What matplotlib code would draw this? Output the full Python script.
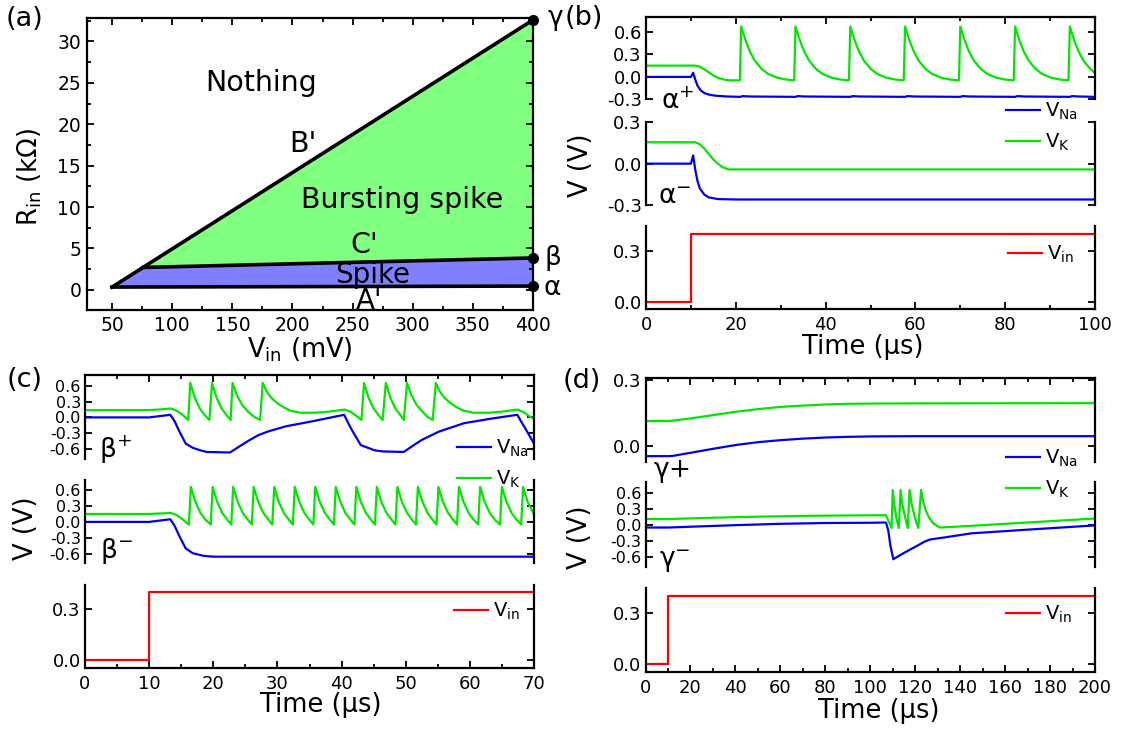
import numpy as np
import matplotlib
matplotlib.use('Agg')
import matplotlib.pyplot as plt
from matplotlib.ticker import MultipleLocator, FormatStrFormatter

plt.rcParams['font.family'] = 'DejaVu Sans'
plt.rcParams['axes.unicode_minus'] = False
plt.rcParams['mathtext.default'] = 'regular'

# ---------------- panel (a): phase diagram corners (Vin in mV, Rin in kOhm)
tip = (50, 0.33)
c_start = (75.8, 2.7)
gamma_pt = (400, 32.6)
beta_pt = (400, 3.85)
alpha_pt = (400, 0.45)

# ---------------- traces, (time in us, volts)
# (b) alpha+ / alpha-
ap_na = [(0, 0), (10, 0), (10.5, .055), (11, -.04), (11.5, -.12), (12.2, -.18), (13, -.215), (14, -.235),
         (15.5, -.25), (18, -.26), (21, -.265), (21.5, -.255), (23, -.26), (33.3, -.265), (33.8, -.255),
         (35.3, -.26), (45.5, -.265), (46, -.255), (47.5, -.26), (57.7, -.265), (58.2, -.255), (59.7, -.26),
         (70, -.265), (70.5, -.255), (72, -.26), (82.2, -.265), (82.7, -.255), (84.2, -.26), (94.4, -.265),
         (94.9, -.255), (96.4, -.26), (100, -.265)]
ap_k = [(0, .15), (11, .15), (12, .135), (13, .10), (14, .06), (15, .02), (16, -.01), (17, -.03), (18.4, -.045),
        (20.9, -.045),
        (21.2, .67), (22.2, .48), (23.2, .33), (24.2, .22), (25.7, .11), (27.2, .04), (29.2, -.01), (31.2, -.035), (33.0, -.045),
        (33.3, .67), (34.3, .48), (35.3, .33), (36.3, .22), (37.8, .11), (39.3, .04), (41.3, -.01), (43.3, -.035), (45.2, -.045),
        (45.5, .67), (46.5, .48), (47.5, .33), (48.5, .22), (50.0, .11), (51.5, .04), (53.5, -.01), (55.5, -.035), (57.4, -.045),
        (57.7, .67), (58.7, .48), (59.7, .33), (60.7, .22), (62.2, .11), (63.7, .04), (65.7, -.01), (67.7, -.035), (69.7, -.045),
        (70.0, .67), (71.0, .48), (72.0, .33), (73.0, .22), (74.5, .11), (76.0, .04), (78.0, -.01), (80.0, -.035), (81.9, -.045),
        (82.2, .67), (83.2, .48), (84.2, .33), (85.2, .22), (86.7, .11), (88.2, .04), (90.2, -.01), (92.2, -.035), (94.1, -.045),
        (94.4, .67), (95.4, .48), (96.4, .33), (97.4, .22), (98.9, .11), (100, .05)]
am_na = [(0, 0), (10, 0), (10.5, .06), (11, -.05), (11.5, -.13), (12, -.18), (13, -.225), (14, -.245),
         (16, -.257), (20, -.26), (100, -.26)]
am_k = [(0, .155), (11, .155), (12, .14), (13, .11), (14, .07), (15, .03), (16, 0), (17, -.025),
        (18.4, -.042), (100, -.042)]
vin_b = [(0, 0), (10, 0), (10, .4), (100, .4)]

# (c) beta+ / beta-
bp_na = [(0, 0), (10, 0), (13.3, .05), (14.0, -.08), (14.6, -.24), (15.7, -.5), (16.8, -.58), (18.0, -.63),
         (19.0, -.66), (22.6, -.67), (24.0, -.56), (25.7, -.43), (27.0, -.34), (28.5, -.27), (31.3, -.17),
         (35.2, -.08), (40.4, .05), (41.0, -.1), (41.6, -.24), (43.0, -.53), (45.2, -.63), (46.5, -.65),
         (49.7, -.66), (51.0, -.55), (52.5, -.43), (55.2, -.27), (59.1, -.11), (63.5, -.02), (67.4, .05),
         (68.0, -.08), (68.6, -.2), (70.0, -.5)]
bp_k = [(0, .14), (10, .14), (12, .155), (13.4, .17), (14.3, .13), (15.2, .05), (16.1, -.05),
        (16.4, .66), (17.1, .38), (17.9, .17), (18.7, .04), (19.4, -.05),
        (19.8, .66), (20.5, .38), (21.3, .17), (22.1, .04), (22.7, -.05),
        (23.0, .66), (23.7, .42), (24.5, .24), (25.4, .11), (26.4, .01), (27.3, -.05),
        (27.7, .66), (28.3, .5), (29.0, .38), (30.0, .27), (31.0, .19), (32.0, .13), (33.5, .09),
        (36.0, .09), (38.0, .11), (40.5, .15), (41.5, .10), (42.4, .02), (43.1, -.05),
        (43.5, .66), (44.2, .38), (45.0, .17), (45.8, .04), (46.4, -.05),
        (46.9, .66), (47.6, .38), (48.4, .17), (49.2, .04), (49.7, -.05),
        (50.2, .66), (50.9, .42), (51.7, .24), (52.6, .11), (53.4, .01), (54.2, -.05),
        (54.7, .66), (55.3, .5), (56.0, .38), (57.0, .27), (58.0, .19), (59.0, .13), (60.5, .09),
        (63.0, .09), (65.0, .11), (67.4, .15), (68.4, .10), (69.3, .02), (70.0, -.03)]
bm_na = [(0, 0), (10, 0), (13.3, .05), (14.0, -.08), (14.6, -.24), (15.7, -.5), (16.8, -.59),
         (18.5, -.64), (20.0, -.655), (70, -.655)]
bm_k = [(0, .15), (10, .15), (12, .16), (13.4, .17), (14.3, .13), (15.2, .05), (16.2, -.05),
        (16.5, .66), (17.2, .38), (18.0, .17), (18.8, .04), (19.6, -.05),
        (19.9, .66), (20.6, .38), (21.4, .17), (22.2, .04), (22.8, -.05),
        (23.1, .66), (23.8, .38), (24.6, .17), (25.4, .04), (26.0, -.05),
        (26.3, .66), (27.0, .38), (27.8, .17), (28.6, .04), (29.2, -.05),
        (29.5, .66), (30.2, .38), (31.0, .17), (31.8, .04), (32.4, -.05),
        (32.7, .66), (33.4, .38), (34.2, .17), (35.0, .04), (35.6, -.05),
        (35.9, .66), (36.6, .38), (37.4, .17), (38.2, .04), (38.8, -.05),
        (39.1, .66), (39.8, .38), (40.6, .17), (41.4, .04), (42.0, -.05),
        (42.3, .66), (43.0, .38), (43.8, .17), (44.6, .04), (45.2, -.05),
        (45.5, .66), (46.2, .38), (47.0, .17), (47.8, .04), (48.4, -.05),
        (48.7, .66), (49.4, .38), (50.2, .17), (51.0, .04), (51.6, -.05),
        (51.9, .66), (52.6, .38), (53.4, .17), (54.2, .04), (54.8, -.05),
        (55.1, .66), (55.8, .38), (56.6, .17), (57.4, .04), (58.0, -.05),
        (58.3, .66), (59.0, .38), (59.8, .17), (60.6, .04), (61.3, -.05),
        (61.6, .66), (62.3, .38), (63.1, .17), (63.9, .04), (64.7, -.05),
        (65.0, .66), (65.7, .38), (66.5, .17), (67.3, .04), (68.0, -.05),
        (68.3, .66), (69.0, .38), (70.0, .14)]
vin_c = [(0, 0), (10, 0), (10, .4), (70, .4)]

# (d) gamma+ / gamma-
gp_na = [(0, -.045), (10, -.045), (12, -.044), (20, -.03), (30, -.012), (40, .005), (50, .018), (60, .027),
         (70, .034), (80, .039), (90, .042), (100, .044), (120, .045), (200, .045)]
gp_k = [(0, .113), (10, .113), (12, .115), (20, .125), (30, .14), (40, .155), (50, .167), (60, .177),
        (70, .183), (80, .188), (90, .191), (100, .192), (120, .193), (200, .194)]
gm_na = [(0, -.05), (10, -.05), (20, -.035), (40, -.005), (60, .02), (80, .035), (100, .04), (107, .045),
         (108, -.1), (109, -.4), (110.3, -.65), (111, -.63), (113, -.58), (115, -.53), (118, -.46),
         (121.5, -.38), (124, -.32), (126.3, -.28), (129, -.26), (132.6, -.24), (145, -.16), (170, -.09),
         (200, -.01)]
gm_k = [(0, .11), (10, .11), (30, .135), (50, .155), (70, .17), (90, .178), (107, .182), (108.3, .06),
        (109.5, -.06), (110.0, .66), (110.8, .35), (111.7, .12), (112.7, -.06),
        (113.5, .66), (114.3, .38), (115.5, .15), (116.7, -.06),
        (117.5, .66), (118.4, .4), (119.5, .2), (120.5, .05), (121.4, -.06),
        (122.6, .66), (123.5, .45), (124.5, .3), (126, .15), (128, .03), (131, -.05),
        (140, -.03), (160, .02), (180, .07), (200, .12)]
vin_d = [(0, 0), (10, 0), (10, .4), (200, .4)]

C_NA, C_K, C_IN = '#0000ee', '#00e600', '#ff0000'
TICK = 13

W, H = 1122, 731
fig = plt.figure(figsize=(W / 100, H / 100), dpi=100)


def box(l, t, r, b):
    ax = fig.add_axes([l / W, 1 - b / H, (r - l) / W, (b - t) / H])
    ax.patch.set_alpha(0)
    return ax


def ftext(x, y, s, **kw):
    return fig.text(x / W, 1 - y / H, s, **kw)


def style(ax, where, xmaj, xmin, xmax, yticks, ylim):
    for s in ax.spines.values():
        s.set_linewidth(1.6)
    ax.spines['top'].set_visible(where == 'top')
    ax.spines['bottom'].set_visible(where == 'bot')
    ax.set_xlim(0, xmax)
    ax.set_ylim(*ylim)
    ax.xaxis.set_major_locator(MultipleLocator(xmaj))
    ax.xaxis.set_minor_locator(MultipleLocator(xmin))
    ax.set_yticks(yticks)
    ax.yaxis.set_major_formatter(FormatStrFormatter('%.1f'))
    ax.tick_params(which='both', direction='in', left=True, right=True,
                   top=(where == 'top'), bottom=(where == 'bot'),
                   labelbottom=(where == 'bot'), labelsize=TICK, width=1.3)
    ax.tick_params(axis='x', pad=5)
    ax.tick_params(axis='y', pad=3)
    # five labels in a short panel sit very close together
    if len(yticks) > 4:
        ax.tick_params(axis='y', labelsize=TICK - 1.5)
    ax.tick_params(which='major', length=5)
    ax.tick_params(which='minor', length=3)


def trace(ax, pts, color, label=None):
    arr = np.array(pts).T
    return ax.plot(arr[0], arr[1], color=color, lw=1.6, label=label)[0]


# ---------------- (a)
ax = box(86.8, 18.3, 533, 310.5)
ax.fill([c_start[0], gamma_pt[0], beta_pt[0]], [c_start[1], gamma_pt[1], beta_pt[1]],
        color='#80ff80', lw=0)
ax.fill([tip[0], c_start[0], beta_pt[0], alpha_pt[0]], [tip[1], c_start[1], beta_pt[1], alpha_pt[1]],
        color='#8080ff', lw=0)
ax.plot([tip[0], gamma_pt[0]], [tip[1], gamma_pt[1]], color='k', lw=2.6)
ax.plot([c_start[0], beta_pt[0]], [c_start[1], beta_pt[1]], color='k', lw=2.6)
ax.plot([tip[0], alpha_pt[0]], [tip[1], alpha_pt[1]], color='k', lw=2.6)
ax.plot([gamma_pt[0], beta_pt[0], alpha_pt[0]], [gamma_pt[1], beta_pt[1], alpha_pt[1]], 'o',
        color='k', ms=7, clip_on=False, zorder=5)
ax.set_xlim(29, 400)
ax.set_ylim(-2.5, 32.8)
ax.xaxis.set_major_locator(MultipleLocator(50))
ax.xaxis.set_minor_locator(MultipleLocator(25))
ax.yaxis.set_major_locator(MultipleLocator(5))
ax.yaxis.set_minor_locator(MultipleLocator(2.5))
for s in ax.spines.values():
    s.set_linewidth(1.6)
ax.tick_params(which='both', direction='in', top=True, right=True, labelsize=TICK + 0.5, width=1.3)
ax.tick_params(axis='x', pad=4)
ax.tick_params(axis='y', pad=4)
ax.tick_params(which='major', length=5)
ax.tick_params(which='minor', length=3)
ax.text(174, 25, 'Nothing', ha='center', va='center', fontsize=20.5)
ax.text(209, 17.6, "B'", ha='center', va='center', fontsize=20.5)
ax.text(291, 10.9, 'Bursting spike', ha='center', va='center', fontsize=20.5)
ax.text(260, 5.4, "C'", ha='center', va='center', fontsize=20.5)
ax.text(267, 1.8, 'Spike', ha='center', va='center', fontsize=20)
ax.text(264, -1.4, "A'", ha='center', va='center', fontsize=20)
gk = dict(math_fontfamily='stix', fontsize=19, va='baseline')
ftext(547, 25, r'$\gamma$', **gk)
ftext(544, 265, r'$\beta$', **gk)
ftext(543, 295, r'$\alpha$', **gk)
ftext(300, 350, 'V$_{in}$ (mV)', ha='center', va='center', fontsize=18.5)
ftext(30, 177, 'R$_{in}$ (k\u03a9)', ha='center', va='center', rotation=90, fontsize=18.5)

# ---------------- (b)
bt = box(646, 16.7, 1095, 99.5)
bm = box(646, 122.3, 1095, 205)
bb = box(646, 225.7, 1095, 309)
style(bt, 'top', 20, 10, 100, [-0.3, 0, 0.3, 0.6], (-0.3, 0.8))
style(bm, 'mid', 20, 10, 100, [-0.3, 0, 0.3], (-0.3, 0.3))
style(bb, 'bot', 20, 10, 100, [0, 0.3], (-0.043, 0.447))
h1 = trace(bt, ap_na, C_NA, 'V$_{Na}$')
h2 = trace(bt, ap_k, C_K, 'V$_{K}$')
trace(bm, am_na, C_NA)
trace(bm, am_k, C_K)
h3 = trace(bb, vin_b, C_IN, 'V$_{in}$')

# ---------------- (c)
ct = box(85, 375, 534, 459.3)
cm = box(85, 480, 534, 563.3)
cb = box(85, 585, 534, 668.3)
style(ct, 'top', 10, 5, 70, [-0.6, -0.3, 0, 0.3, 0.6], (-0.8, 0.81))
style(cm, 'mid', 10, 5, 70, [-0.6, -0.3, 0, 0.3, 0.6], (-0.78, 0.79))
style(cb, 'bot', 10, 5, 70, [0, 0.3], (-0.049, 0.444))
trace(ct, bp_na, C_NA)
trace(ct, bp_k, C_K)
trace(cm, bm_na, C_NA)
trace(cm, bm_k, C_K)
trace(cb, vin_c, C_IN)

# ---------------- (d)
dt = box(645.5, 378.3, 1095, 461.7)
dm = box(645.5, 482, 1095, 566.7)
db = box(645.5, 588.3, 1095, 671.7)
style(dt, 'top', 20, 10, 200, [0, 0.3], (-0.07, 0.306))
style(dm, 'mid', 20, 10, 200, [-0.6, -0.3, 0, 0.3, 0.6], (-0.79, 0.81))
style(db, 'bot', 20, 10, 200, [0, 0.3], (-0.045, 0.448))
trace(dt, gp_na, C_NA)
trace(dt, gp_k, C_K)
trace(dm, gm_na, C_NA)
trace(dm, gm_k, C_K)
trace(db, vin_d, C_IN)

# legends
leg_kw = dict(frameon=False, fontsize=14, handlelength=1.75, handletextpad=0.25,
              borderpad=0, borderaxespad=0, labelspacing=0.5, loc='center left')
for (x, y) in [(1006, 127), (457, 464), (1006, 474)]:
    fig.legend([h1, h2], ['V$_{Na}$', 'V$_{K}$'], bbox_to_anchor=(x / W, 1 - y / H), **leg_kw)
for (x, y) in [(1008, 254), (454, 611), (1006, 614)]:
    fig.legend([h3], ['V$_{in}$'], bbox_to_anchor=(x / W, 1 - y / H), **leg_kw)

# state labels
ftext(661, 109, r'$\alpha^{+}$', **gk)
ftext(658, 204, r'$\alpha^{-}$', **gk)
ftext(99, 458, r'$\beta^{+}$', **gk)
ftext(100, 558, r'$\beta^{-}$', **gk)
ftext(653, 477, r'$\gamma$+', **gk)
ftext(659, 567, r'$\gamma^{-}$', **gk)

# axis titles
ftext(863, 347, 'Time (\u03bcs)', ha='center', va='center', fontsize=18.5)
ftext(321, 705, 'Time (\u03bcs)', ha='center', va='center', fontsize=18.5)
ftext(879, 711, 'Time (\u03bcs)', ha='center', va='center', fontsize=18.5)
ftext(581, 165, 'V (V)', ha='center', va='center', rotation=90, fontsize=18.5)
ftext(26, 528, 'V (V)', ha='center', va='center', rotation=90, fontsize=18.5)
ftext(580, 537, 'V (V)', ha='center', va='center', rotation=90, fontsize=18.5)

# panel tags
for (x, y, s) in [(25, 19, '(a)'), (584, 18, '(b)'), (25, 380, '(c)'), (582, 381, '(d)')]:
    ftext(x, y, s, ha='center', va='center', fontsize=19.5)

fig.savefig('out.png', dpi=100)
